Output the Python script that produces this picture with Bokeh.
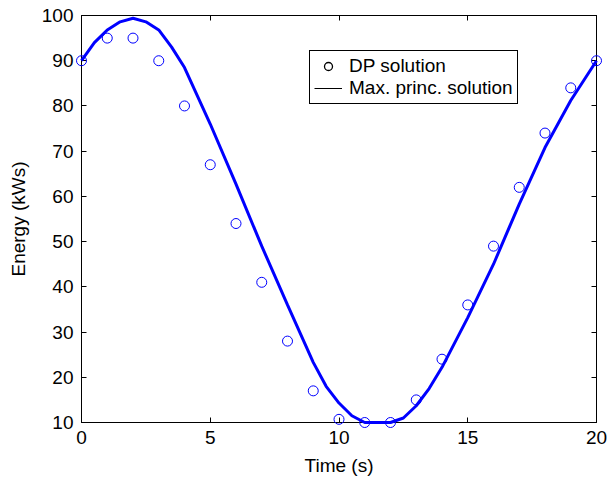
from bokeh.plotting import figure
from bokeh.models import (Range1d, LinearAxis, FixedTicker, Legend, LegendItem,
                          CustomLabelingPolicy)
from bokeh.embed import file_html
from bokeh.resources import INLINE

# DP solution (markers)
time_dp = [0, 1, 2, 3, 4, 5, 6, 7, 8, 9, 10, 11, 12, 13, 14, 15, 16, 17, 18, 19, 20]
energy_dp = [90, 95, 95, 90, 80, 67, 54, 41, 28, 17, 10.7, 10, 10, 15, 24, 36, 49, 62, 74, 84, 90]

# Maximum principle solution (line)
time_mp = [0, 0.5, 1, 1.5, 2, 2.5, 3, 3.5, 4, 5, 6, 7, 8, 9, 9.5, 10, 10.5, 11, 12,
           12.5, 13, 13.5, 14, 15, 16, 17, 18, 19, 20]
energy_mp = [90, 94, 96.8, 98.6, 99.4, 98.6, 96.8, 93.0, 88.5, 76, 62.7, 49, 36, 23.3, 18,
             14.3, 11.5, 10, 10, 11, 13.7, 17.5, 22.2, 33.2, 45, 58.3, 70.8, 81.2, 90]

x_ticks = [0, 5, 10, 15, 20]
y_ticks = [10, 20, 30, 40, 50, 60, 70, 80, 90, 100]

FONT = "Liberation Sans"
BLUE = "#0000ff"
NAN = float("nan")

p = figure(width=611, height=487, output_backend="svg", toolbar_location=None,
           x_range=Range1d(0, 20), y_range=Range1d(10, 100),
           min_border_left=81, min_border_right=15, min_border_top=15, min_border_bottom=65)
p.xgrid.visible = False
p.ygrid.visible = False
p.outline_line_color = "black"
p.outline_line_alpha = 1
p.outline_line_width = 1
p.background_fill_color = "white"
p.border_fill_color = "white"

def style_axis(ax, ticks, show_labels=True):
    ax.ticker = FixedTicker(ticks=ticks)
    ax.major_tick_in = 5
    ax.major_tick_out = 0
    ax.minor_tick_in = 0
    ax.minor_tick_out = 0
    ax.axis_line_color = "black"
    ax.major_tick_line_color = "black"
    ax.major_label_text_font = FONT
    ax.major_label_text_color = "black"
    ax.axis_label_text_font = FONT
    ax.axis_label_text_font_style = "normal"
    ax.axis_label_text_color = "black"
    ax.axis_label_text_font_size = "19px"
    if show_labels:
        ax.major_label_text_font_size = "19px"
        ax.major_label_standoff = 8
    else:
        ax.major_label_text_font_size = "1px"
        ax.major_label_standoff = 0
        ax.major_label_policy = CustomLabelingPolicy(code="return new Set()")

xa = p.xaxis[0]
ya = p.yaxis[0]
style_axis(xa, x_ticks)
style_axis(ya, y_ticks)
xa.axis_label = "Time (s)"
ya.axis_label = "Energy (kWs)"
xa.axis_label_standoff = 8
ya.axis_label_standoff = 10

top_ax = LinearAxis()
style_axis(top_ax, x_ticks, show_labels=False)
p.add_layout(top_ax, "above")
right_ax = LinearAxis()
style_axis(right_ax, y_ticks, show_labels=False)
p.add_layout(right_ax, "right")

line_r = p.line(time_mp, energy_mp, line_color=BLUE, line_width=3)
pts_r = p.scatter(time_dp, energy_dp, marker="circle", size=10, fill_color=None,
                  line_color=BLUE, line_width=1)
pts_r.level = "overlay"
line_r.level = "overlay"

# legend-only glyphs (not plotted: NaN data), black as in the original
leg_pts = p.scatter(x=[NAN], y=[NAN], marker="circle", size=7, fill_color=None,
                    line_color="black", line_width=1.3)
leg_line = p.line(x=[NAN, NAN], y=[NAN, NAN], line_color="black", line_width=1)

legend = Legend(items=[LegendItem(label="DP solution", renderers=[leg_pts]),
                       LegendItem(label="Max. princ. solution", renderers=[leg_line])],
                location=(228, 318), orientation="vertical",
                padding=4, spacing=0, margin=0,
                glyph_width=28, glyph_height=20, label_height=20, label_standoff=7,
                label_text_font=FONT, label_text_font_size="19px", label_text_color="black",
                border_line_color="black", border_line_width=1, border_line_alpha=1,
                background_fill_color="white", background_fill_alpha=1)
p.add_layout(legend, "center")

open("out.html", "w").write(file_html(p, INLINE))
